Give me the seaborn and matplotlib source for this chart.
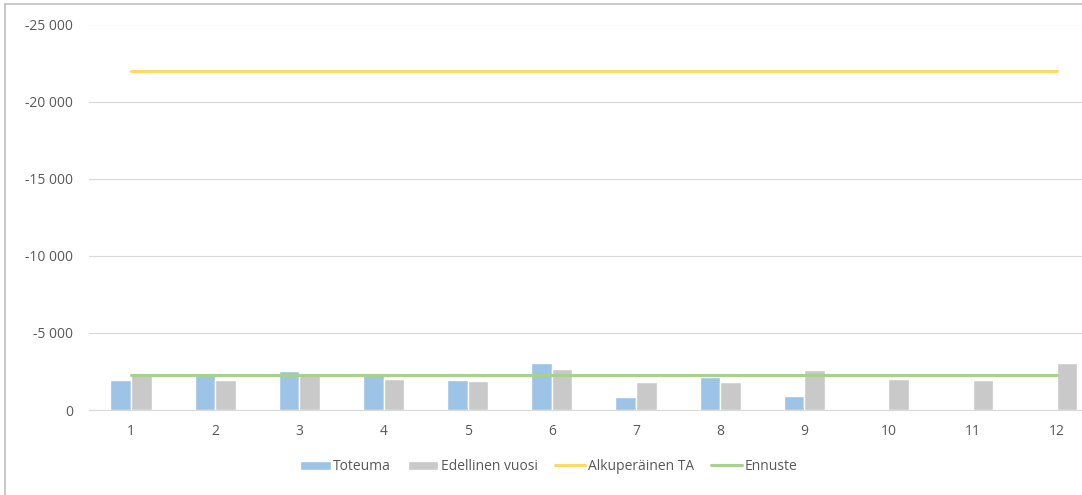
import matplotlib
matplotlib.use("Agg")
import matplotlib.pyplot as plt
import seaborn as sns
import pandas as pd
import numpy as np
from matplotlib.patches import Patch
from matplotlib.lines import Line2D
from matplotlib.ticker import FuncFormatter

months = [str(m) for m in range(1, 13)]
toteuma = [-1950, -2410, -2500, -2250, -1960, -3040, -850, -2130, -940, np.nan, np.nan, np.nan]
edellinen = [-2280, -1960, -2300, -2020, -1870, -2670, -1830, -1830, -2610, -2020, -1960, -3060]
alkuperainen_ta = [-22000] * 12
ennuste = [-2260] * 12

series_names = ["Toteuma", "Edellinen vuosi", "Alkuperäinen TA", "Ennuste"]
colors = ["#9DC3E6", "#C9C9C9", "#FFD966", "#A9D18E"]

bars = pd.DataFrame({
    "kuukausi": months * 2,
    "sarja": [series_names[0]] * 12 + [series_names[1]] * 12,
    "arvo": toteuma + edellinen,
})

sns.set_style("white")
plt.rcParams["font.family"] = ["Open Sans", "DejaVu Sans"]

W, H = 1082, 495
fig = plt.figure(figsize=(W / 100, H / 100), dpi=100)
ax = fig.add_axes([89 / W, 1 - 410 / H, (W - 89) / W, (410 - 24.5) / H])

sns.barplot(data=bars, x="kuukausi", y="arvo", hue="sarja", order=months,
            hue_order=series_names[:2], palette=colors[:2], width=0.49,
            saturation=1, ax=ax, legend=False)
x_idx = np.arange(len(months))
sns.lineplot(x=x_idx, y=alkuperainen_ta, color=colors[2], linewidth=2.2, ax=ax)
sns.lineplot(x=x_idx, y=ennuste, color=colors[3], linewidth=2.2, ax=ax)

ax.set_ylim(0, -25000)
ax.set_yticks([0, -5000, -10000, -15000, -20000, -25000])
ax.yaxis.set_major_formatter(FuncFormatter(lambda v, p: f"{int(v):,}".replace(",", " ")))
ax.set_xlim(-0.5, 11.3)
ax.grid(axis="y", color="#D9D9D9", linewidth=0.8)
ax.set_axisbelow(True)
for s in ["top", "right", "left"]:
    ax.spines[s].set_visible(False)
ax.spines["bottom"].set_color("#D9D9D9")
ax.spines["bottom"].set_linewidth(0.8)
ax.tick_params(axis="both", length=0, labelsize=10, colors="#595959")
ax.tick_params(axis="y", pad=11.5)
ax.tick_params(axis="x", pad=10)
ax.set_xlabel("")
ax.set_ylabel("")

handles = [
    Patch(facecolor=colors[0]),
    Patch(facecolor=colors[1]),
    Line2D([0], [0], color=colors[2], linewidth=2.2),
    Line2D([0], [0], color=colors[3], linewidth=2.2),
]
fig.legend(handles, series_names, loc="center", bbox_to_anchor=(0.507, 0.057),
           ncol=4, frameon=False, fontsize=10, labelcolor="#595959",
           handlelength=2.2, handleheight=0.7, handletextpad=0.2, columnspacing=1.2)

# chart frame (top and left edges visible in the crop)
fig.add_artist(Line2D([5 / W, 1], [1 - 4 / H, 1 - 4 / H], color="#BFBFBF", linewidth=1.2))
fig.add_artist(Line2D([5 / W, 5 / W], [0, 1 - 4 / H], color="#BFBFBF", linewidth=1.2))

fig.savefig("out.png", dpi=100)
